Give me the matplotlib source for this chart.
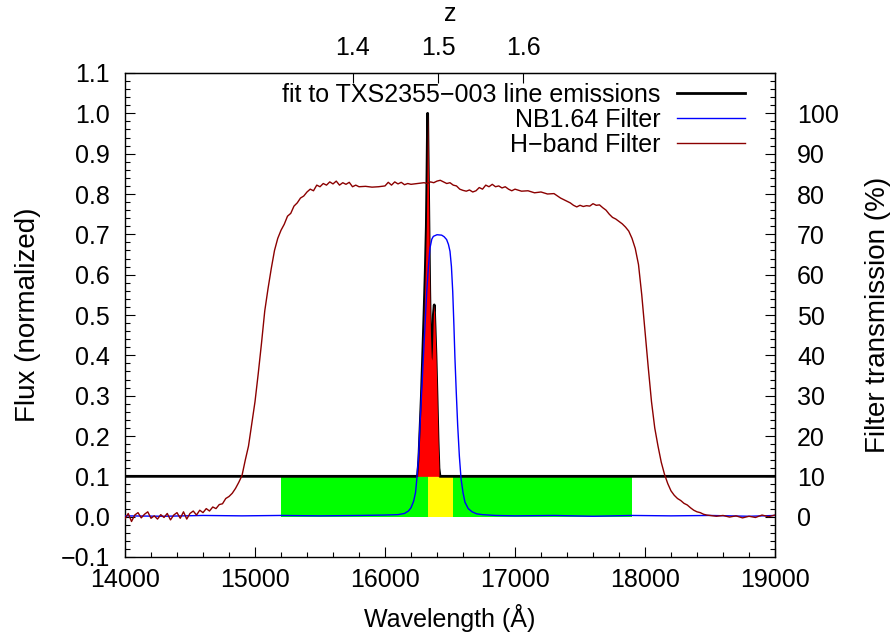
import matplotlib
matplotlib.use("Agg")
import matplotlib.pyplot as plt
from matplotlib.ticker import MultipleLocator, FixedLocator
import numpy as np

plt.rcParams['font.family'] = ['Liberation Sans', 'DejaVu Sans']

# ---------------- data ----------------
# fit to line emissions (normalized flux, offset baseline 0.1)
fit_wl = [14000, 16240, 16251, 16260, 16270, 16280, 16290, 16300, 16310, 16318,
          16323, 16328, 16333, 16338, 16344, 16350, 16356, 16360, 16365, 16372,
          16379, 16385, 16392, 16400, 16408, 16415, 16423, 19000]
fit_flux = [0.100, 0.100, 0.102, 0.140, 0.220, 0.300, 0.400, 0.500, 0.610, 0.720,
            0.850, 1.000, 0.860, 0.720, 0.560, 0.450, 0.395, 0.388, 0.420, 0.500,
            0.525, 0.470, 0.400, 0.300, 0.190, 0.120, 0.100, 0.100]

# NB1.64 filter transmission (fraction)
nb_wl = [14000, 14300, 14600, 14900, 15200, 15500, 15800, 16000, 16100, 16150,
         16180, 16200, 16220, 16235, 16245, 16258, 16269, 16282, 16295, 16308,
         16321, 16334, 16346, 16360, 16372, 16400, 16436, 16455, 16474, 16488,
         16500, 16511, 16521, 16530, 16538, 16548, 16559, 16572, 16585, 16600,
         16615, 16640, 16670, 16705, 16750, 16850, 17000, 17300, 17600, 17900,
         18200, 18500, 18800, 19000]
nb_trans = [0.002, 0.001, 0.003, 0.002, 0.003, 0.002, 0.003, 0.004, 0.005, 0.008,
            0.014, 0.022, 0.038, 0.060, 0.094, 0.150, 0.227, 0.310, 0.393, 0.475,
            0.558, 0.620, 0.666, 0.688, 0.695, 0.699, 0.698, 0.694, 0.687, 0.675,
            0.658, 0.620, 0.558, 0.475, 0.393, 0.310, 0.227, 0.150, 0.094, 0.060,
            0.036, 0.020, 0.012, 0.007, 0.005, 0.003, 0.002, 0.003, 0.001, 0.003,
            0.002, 0.003, 0.001, 0.003]

# H-band filter transmission (fraction)
hb_wl = [14000, 14025, 14050, 14075, 14100, 14125, 14150, 14175, 14200, 14225,
         14250, 14275, 14300, 14325, 14350, 14375, 14400, 14425, 14450, 14475,
         14500, 14525, 14550, 14575, 14600, 14625, 14650, 14675, 14700, 14725,
         14750, 14775, 14800, 14825, 14850, 14875, 14900, 14925, 14950, 14975,
         15000, 15025, 15050, 15075, 15100, 15125, 15150, 15175, 15200, 15225,
         15250, 15275, 15300, 15325, 15350, 15375, 15400, 15425, 15450, 15475,
         15500, 15525, 15550, 15575, 15600, 15625, 15650, 15675, 15700, 15725,
         15750, 15775, 15800, 15850, 15900, 15950, 16000, 16025, 16050, 16075,
         16100, 16125, 16150, 16175, 16200, 16250, 16300, 16325, 16350, 16375,
         16400, 16425, 16450, 16475, 16500, 16525, 16550, 16575, 16600, 16625,
         16650, 16675, 16700, 16725, 16750, 16775, 16800, 16825, 16850, 16875,
         16900, 16925, 16950, 16975, 17000, 17050, 17100, 17150, 17200, 17250,
         17300, 17350, 17400, 17425, 17450, 17475, 17500, 17525, 17550, 17575,
         17600, 17625, 17650, 17675, 17700, 17725, 17750, 17775, 17800, 17825,
         17850, 17875, 17900, 17925, 17950, 17975, 18000, 18025, 18050, 18075,
         18100, 18125, 18150, 18175, 18200, 18225, 18250, 18275, 18300, 18325,
         18350, 18375, 18400, 18425, 18450, 18475, 18500, 18550, 18600, 18650,
         18700, 18750, 18800, 18850, 18900, 18950, 19000]
hb_trans = [-0.005, 0.008, -0.012, 0.004, 0.010, -0.003, 0.006, 0.012, -0.004, 0.002,
            -0.006, 0.005, -0.002, 0.008, -0.008, 0.004, 0.010, -0.004, 0.012, -0.006,
            0.008, 0.014, 0.004, 0.016, 0.010, 0.020, 0.014, 0.024, 0.020, 0.030,
            0.032, 0.045, 0.050, 0.058, 0.070, 0.085, 0.102, 0.140, 0.175, 0.230,
            0.285, 0.355, 0.430, 0.510, 0.565, 0.615, 0.660, 0.690, 0.710, 0.725,
            0.745, 0.752, 0.770, 0.778, 0.790, 0.795, 0.805, 0.812, 0.808, 0.822,
            0.818, 0.826, 0.822, 0.830, 0.825, 0.832, 0.822, 0.828, 0.824, 0.829,
            0.818, 0.822, 0.818, 0.819, 0.817, 0.818, 0.820, 0.829, 0.822, 0.830,
            0.825, 0.829, 0.823, 0.826, 0.824, 0.826, 0.828, 0.826, 0.830, 0.828,
            0.832, 0.834, 0.830, 0.826, 0.828, 0.822, 0.820, 0.812, 0.809, 0.807,
            0.810, 0.805, 0.808, 0.816, 0.812, 0.822, 0.818, 0.824, 0.818, 0.820,
            0.815, 0.818, 0.812, 0.808, 0.812, 0.807, 0.808, 0.803, 0.805, 0.800,
            0.801, 0.790, 0.782, 0.778, 0.772, 0.768, 0.772, 0.769, 0.771, 0.770,
            0.776, 0.772, 0.773, 0.766, 0.760, 0.750, 0.742, 0.738, 0.732, 0.726,
            0.718, 0.708, 0.690, 0.665, 0.625, 0.550, 0.460, 0.370, 0.285, 0.220,
            0.175, 0.135, 0.105, 0.082, 0.064, 0.053, 0.045, 0.040, 0.033, 0.029,
            0.022, 0.016, 0.012, 0.010, 0.006, 0.004, 0.003, 0.001, 0.003, -0.001,
            0.002, -0.003, 0.001, -0.002, 0.004, 0.000, 0.004]

# shaded bands (wavelength ranges) and their height
green_band = [15200, 17900]
yellow_band = [16333, 16526]
band_height = 0.1
fit_baseline = 0.1

x_ticks = [14000, 15000, 16000, 17000, 18000, 19000]
y_ticks = [-0.1, 0.0, 0.1, 0.2, 0.3, 0.4, 0.5, 0.6, 0.7, 0.8, 0.9, 1.0, 1.1]
right_ticks = [0, 10, 20, 30, 40, 50, 60, 70, 80, 90, 100]
z_ticks = [1.4, 1.5, 1.6]
halpha_rest = 6563.0

labels = ["fit to TXS2355\u2212003 line emissions", "NB1.64 Filter", "H\u2212band Filter"]

# ---------------- figure ----------------
W, H = 895, 639
fig = plt.figure(figsize=(W / 100, H / 100), dpi=100)
L, R, T, B = 125, 775, 73, 557
ax = fig.add_axes([L / W, 1 - B / H, (R - L) / W, (B - T) / H])

fs = 18      # horizontal texts
fsv = 20     # vertical axis titles

ax.fill_between(green_band, 0, band_height, color='#00ff00', lw=0, zorder=1)
ax.fill_between(yellow_band, 0, band_height, color='#ffff00', lw=0, zorder=1.1)

fit_wl_a = np.array(fit_wl)
fit_flux_a = np.array(fit_flux)
l1, = ax.plot(fit_wl, fit_flux, color='black', lw=2.0, zorder=3, label=labels[0])
ax.fill_between(fit_wl_a, fit_baseline, fit_flux_a, where=fit_flux_a > fit_baseline,
                color='#ff0000', lw=0, zorder=3.5)
l2, = ax.plot(nb_wl, nb_trans, color='#0000ff', lw=1.0, zorder=4, label=labels[1])
l3, = ax.plot(hb_wl, hb_trans, color='#8b0000', lw=1.0, zorder=5, label=labels[2])

ax.set_xlim(14000, 19000)
ax.set_ylim(-0.1, 1.1)
ax.set_xticks(x_ticks)
ax.set_xticklabels([str(v) for v in x_ticks])
ax.set_yticks(y_ticks)
ax.set_yticklabels(["\u22120.1" if v < 0 else f"{v:.1f}" for v in y_ticks])
ax.xaxis.set_minor_locator(MultipleLocator(200))
ax.yaxis.set_minor_locator(MultipleLocator(0.02))
ax.tick_params(axis='both', which='both', direction='in', top=False, right=False,
               labelsize=fs)
ax.tick_params(axis='x', which='major', length=7, width=0.8, pad=8)
ax.tick_params(axis='x', which='minor', length=3.5, width=0.8)
ax.tick_params(axis='y', which='major', length=7, width=0.8, pad=11)
ax.tick_params(axis='y', which='minor', length=3.5, width=0.8)
for s in ax.spines.values():
    s.set_linewidth(1.0)

ax.set_xlabel("Wavelength (\u00c5)", fontsize=fs)
ax.xaxis.set_label_coords(0.5, -(618 - B) / (B - T))
ax.xaxis.label.set_va('center')
ax.set_ylabel("Flux (normalized)", fontsize=fsv)
ax.yaxis.set_label_coords(-(L - 28) / (R - L), 0.5)
ax.yaxis.label.set_va('center')

# top z axis
secx = ax.secondary_xaxis('top', functions=(lambda l: l / halpha_rest - 1,
                                            lambda z: (z + 1) * halpha_rest))
secx.xaxis.set_major_locator(FixedLocator(z_ticks))
secx.set_xticklabels([f"{v:.1f}" for v in z_ticks])
secx.tick_params(direction='in', length=7, width=0.8, labelsize=fs, pad=9)
secx.xaxis.set_minor_locator(FixedLocator([]))
secx.set_xlabel("z", fontsize=fs, labelpad=11)

# right transmission axis
secy = ax.secondary_yaxis('right', functions=(lambda v: v * 100, lambda p: p / 100))
secy.yaxis.set_major_locator(FixedLocator(right_ticks))
secy.yaxis.set_minor_locator(MultipleLocator(2))
secy.tick_params(which='major', direction='in', length=7, width=0.8, labelsize=fs, pad=16)
secy.tick_params(which='minor', direction='in', length=3.5, width=0.8)
secy.set_ylabel("Filter transmission (%)", fontsize=fsv, labelpad=19)

leg = ax.legend(handles=[l1, l2, l3], loc='upper right',
                bbox_to_anchor=((745 - L) / (R - L), (B - 83) / (B - T)),
                markerfirst=False, frameon=False, fontsize=fs, borderpad=0,
                borderaxespad=0, handlelength=2.7, handletextpad=0.68,
                labelspacing=0.03)
for t in leg.get_texts():
    t.set_ha('right')
leg._legend_box.align = "right"

fig.savefig("out.png", dpi=100)
